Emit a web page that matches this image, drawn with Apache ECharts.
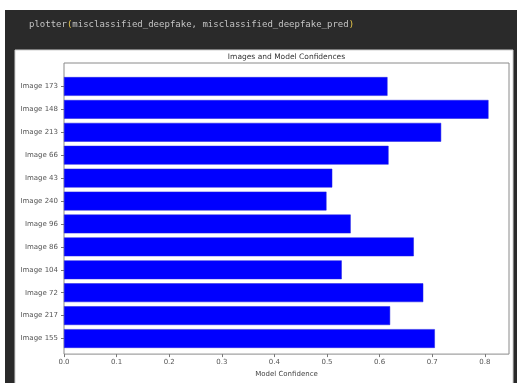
<!DOCTYPE html>
<html><head><meta charset="utf-8">
<script src="https://cdn.jsdelivr.net/npm/echarts@6/dist/echarts.min.js"></script>
<style>html,body{margin:0;padding:0;background:#fff}#c{width:517px;height:383px}</style>
</head><body><div id="c"></div>
<script>
// categories bottom-to-top (matplotlib barh order)
var categories = ['Image 155','Image 217','Image 72','Image 104','Image 86','Image 96','Image 240','Image 43','Image 66','Image 213','Image 148','Image 173'];
var confidences = [0.705, 0.620, 0.683, 0.528, 0.665, 0.545, 0.499, 0.510, 0.617, 0.717, 0.807, 0.615];
var xTicks = [0.0, 0.1, 0.2, 0.3, 0.4, 0.5, 0.6, 0.7, 0.8];
var xMax = 0.846;
var codeLine = ['plotter', '(', 'misclassified_deepfake, misclassified_deepfake_pred', ')'];

var chart = echarts.init(document.getElementById('c'), null, {renderer:'canvas'});
var font = 'DejaVu Sans';
chart.setOption({
  backgroundColor:'#ffffff',
  animation:false,
  graphic:[
    {type:'rect', z:-10, shape:{x:5,y:10,width:512,height:373}, style:{fill:'#2a2a2a'}},
    {type:'rect', z:-9, shape:{x:15,y:50,width:498,height:340}, style:{fill:'#ffffff', stroke:'#cfcfcf', lineWidth:1}},
    {type:'text', z:10, x:29, y:25, style:{
      text:'{a|'+codeLine[0]+'}{p|'+codeLine[1]+'}{a|'+codeLine[2]+'}{p|'+codeLine[3]+'}',
      verticalAlign:'middle',
      rich:{
        a:{fontFamily:'DejaVu Sans Mono', fontSize:9, fill:'#c4c4c4', color:'#c4c4c4'},
        p:{fontFamily:'DejaVu Sans Mono', fontSize:9, fill:'#e8c84a', color:'#e8c84a'}
      }}},
    {type:'text', z:10, x:286.5, y:57, style:{text:'Images and Model Confidences', fontFamily:font, fontSize:7.5, fill:'#333', align:'center', verticalAlign:'middle'}}
  ],
  grid:[
    {left:64, top:63, width:445, height:299, show:true, borderColor:'#8a8a8a', borderWidth:1, backgroundColor:'#ffffff'},
    {left:64, top:75, width:445, height:275}
  ],
  xAxis:[
    {type:'value', gridIndex:0, min:0, max:xMax, interval:0.1,
     axisLine:{show:false}, splitLine:{show:false},
     axisTick:{show:true, length:3, lineStyle:{color:'#777'}},
     axisLabel:{fontFamily:font, fontSize:7, color:'#555', margin:5, showMaxLabel:false,
       formatter:function(v){ for (var i=0;i<xTicks.length;i++){ if (Math.abs(v-xTicks[i])<1e-6) return xTicks[i].toFixed(1);} return ''; }},
     name:'Model Confidence', nameLocation:'middle', nameGap:16,
     nameTextStyle:{fontFamily:font, fontSize:7, color:'#444'}},
    {type:'value', gridIndex:1, min:0, max:xMax, show:false}
  ],
  yAxis:[
    {type:'value', gridIndex:0, min:0, max:1, show:false},
    {type:'category', gridIndex:1, data:categories,
     axisLine:{show:false},
     axisTick:{show:true, length:3, alignWithLabel:true, interval:0, lineStyle:{color:'#777'}},
     axisLabel:{fontFamily:font, fontSize:7, color:'#555', margin:6, interval:0}}
  ],
  series:[{
    type:'bar', xAxisIndex:1, yAxisIndex:1, data:confidences, barWidth:'82%',
    itemStyle:{color:'#0000ff', borderColor:'#2020e0', borderWidth:0.5}
  }]
});
</script></body></html>
